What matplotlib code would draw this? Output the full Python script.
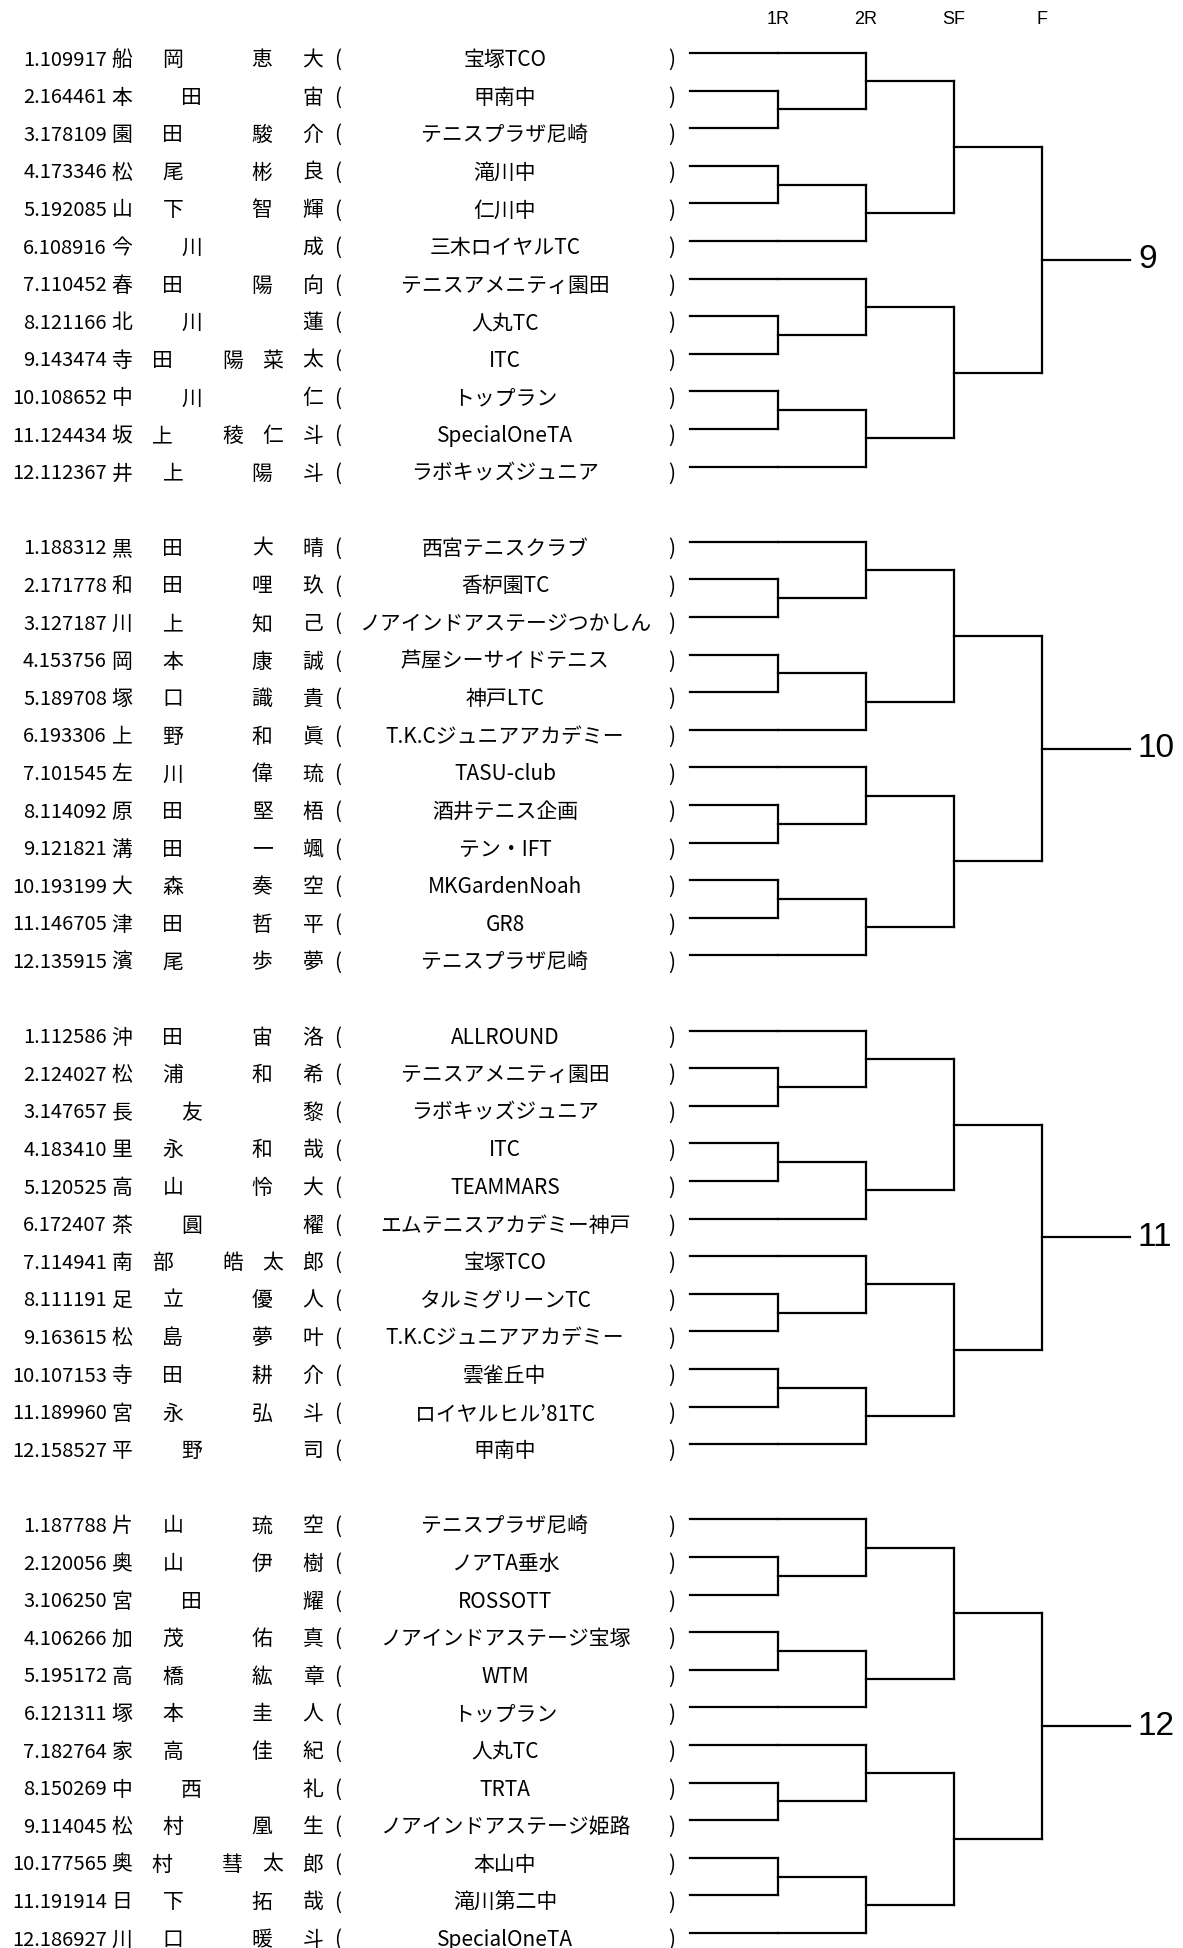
import matplotlib
matplotlib.use("Agg")
import matplotlib.pyplot as plt

# draw numbers shown at the bracket exits
DRAW_LABELS = [9, 10, 11, 12]
ROUNDS = ["1R", "2R", "SF", "F"]

PLAYER_IDS = [
    ["109917", "164461", "178109", "173346", "192085", "108916",
     "110452", "121166", "143474", "108652", "124434", "112367"],
    ["188312", "171778", "127187", "153756", "189708", "193306",
     "101545", "114092", "121821", "193199", "146705", "135915"],
    ["112586", "124027", "147657", "183410", "120525", "172407",
     "114941", "111191", "163615", "107153", "189960", "158527"],
    ["187788", "120056", "106250", "106266", "195172", "121311",
     "182764", "150269", "114045", "177565", "191914", "186927"],
]

NAMES = [
    ["船岡 恵大", "本田 宙", "園田 駿介", "松尾 彬良", "山下 智輝", "今川 成",
     "春田 陽向", "北川 蓮", "寺田 陽菜太", "中川 仁", "坂上 稜仁斗", "井上 陽斗"],
    ["黒田 大晴", "和田 哩玖", "川上 知己", "岡本 康誠", "塚口 識貴", "上野 和眞",
     "左川 偉琉", "原田 堅梧", "溝田 一颯", "大森 奏空", "津田 哲平", "濱尾 歩夢"],
    ["沖田 宙洛", "松浦 和希", "長友 黎", "里永 和哉", "高山 怜大", "茶圓 櫂",
     "南部 皓太郎", "足立 優人", "松島 夢叶", "寺田 耕介", "宮永 弘斗", "平野 司"],
    ["片山 琉空", "奥山 伊樹", "宮田 耀", "加茂 佑真", "高橋 紘章", "塚本 圭人",
     "家高 佳紀", "中西 礼", "松村 凰生", "奥村 彗太郎", "日下 拓哉", "川口 暖斗"],
]

CLUBS = [
    ["宝塚TCO", "甲南中", "テニスプラザ尼崎", "滝川中", "仁川中", "三木ロイヤルTC",
     "テニスアメニティ園田", "人丸TC", "ITC", "トップラン", "SpecialOneTA",
     "ラボキッズジュニア"],
    ["西宮テニスクラブ", "香枦園TC", "ノアインドアステージつかしん", "芦屋シーサイドテニス",
     "神戸LTC", "T.K.Cジュニアアカデミー", "TASU-club", "酒井テニス企画", "テン・IFT",
     "MKGardenNoah", "GR8", "テニスプラザ尼崎"],
    ["ALLROUND", "テニスアメニティ園田", "ラボキッズジュニア", "ITC", "TEAMMARS",
     "エムテニスアカデミー神戸", "宝塚TCO", "タルミグリーンTC", "T.K.Cジュニアアカデミー",
     "雲雀丘中", "ロイヤルヒル’81TC", "甲南中"],
    ["テニスプラザ尼崎", "ノアTA垂水", "ROSSOTT", "ノアインドアステージ宝塚", "WTM",
     "トップラン", "人丸TC", "TRTA", "ノアインドアステージ姫路", "本山中", "滝川第二中",
     "SpecialOneTA"],
]

W, H = 1183, 1948
ROW_H = 37.6
TOP = 53
XS = [690, 778, 866, 954, 1042, 1130]
JP = ["Noto Sans CJK JP", "DejaVu Sans"]
LW = 1.6


def seg(ax, x0, y0, x1, y1):
    ax.plot([x0, x1], [y0, y1], color="black", lw=LW, solid_capstyle="projecting")


def half_bracket(ax, ys):
    # ys: six row lines; pattern bye, match, match, bye
    a, b, c, d, e, f = ys
    for y in ys:
        seg(ax, XS[0], y, XS[1], y)
    seg(ax, XS[1], a, XS[2], a)
    seg(ax, XS[1], f, XS[2], f)
    seg(ax, XS[1], b, XS[1], c)
    m1 = (b + c) / 2
    seg(ax, XS[1], m1, XS[2], m1)
    seg(ax, XS[1], d, XS[1], e)
    m2 = (d + e) / 2
    seg(ax, XS[1], m2, XS[2], m2)
    seg(ax, XS[2], a, XS[2], m1)
    seg(ax, XS[2], m2, XS[2], f)
    q1 = (a + m1) / 2
    q2 = (m2 + f) / 2
    seg(ax, XS[2], q1, XS[3], q1)
    seg(ax, XS[2], q2, XS[3], q2)
    seg(ax, XS[3], q1, XS[3], q2)
    return (q1 + q2) / 2


def draw_name(ax, name, y):
    sur, given = name.split(" ")
    chars = list(sur) + list(given)
    units = (len(chars) - 2) + 1.75
    step = (313 - 122) / units
    pos = list(range(len(sur)))
    start = len(sur) - 1 + 1.75
    for j in range(len(given)):
        pos.append(start + j)
    for ch, p in zip(chars, pos):
        ax.text(122 + p * step, y, ch, ha="center", va="center",
                fontsize=15, family=JP)


def main() -> None:
    fig = plt.figure(figsize=(W / 100, H / 100), dpi=100)
    ax = fig.add_axes([0, 0, 1, 1])
    ax.set_xlim(0, W)
    ax.set_ylim(H, 0)
    ax.axis("off")

    for x, r in zip(XS[1:5], ROUNDS):
        ax.text(x, 20, r, ha="center", va="center", fontsize=13,
                family="Liberation Sans")

    for g in range(len(DRAW_LABELS)):
        ys = [TOP + (13 * g + r) * ROW_H for r in range(12)]
        for r in range(12):
            ty = ys[r] + 7
            ax.text(107, ty, f"{r + 1}.{PLAYER_IDS[g][r]}", ha="right", va="center",
                    fontsize=14.5, family=JP)
            draw_name(ax, NAMES[g][r], ty)
            ax.text(338, ty, "(", ha="center", va="center", fontsize=15, family=JP)
            ax.text(505, ty, CLUBS[g][r], ha="center", va="center", fontsize=15, family=JP)
            ax.text(672, ty, ")", ha="center", va="center", fontsize=15, family=JP)
        s1 = half_bracket(ax, ys[:6])
        s2 = half_bracket(ax, ys[6:])
        seg(ax, XS[3], s1, XS[4], s1)
        seg(ax, XS[3], s2, XS[4], s2)
        seg(ax, XS[4], s1, XS[4], s2)
        fy = (s1 + s2) / 2
        seg(ax, XS[4], fy, XS[5], fy)
        ax.text(XS[5] + 8, fy, str(DRAW_LABELS[g]), ha="left", va="center",
                fontsize=24, family="Liberation Sans")

    fig.savefig("out.png", dpi=100)


if __name__ == "__main__":
    main()
